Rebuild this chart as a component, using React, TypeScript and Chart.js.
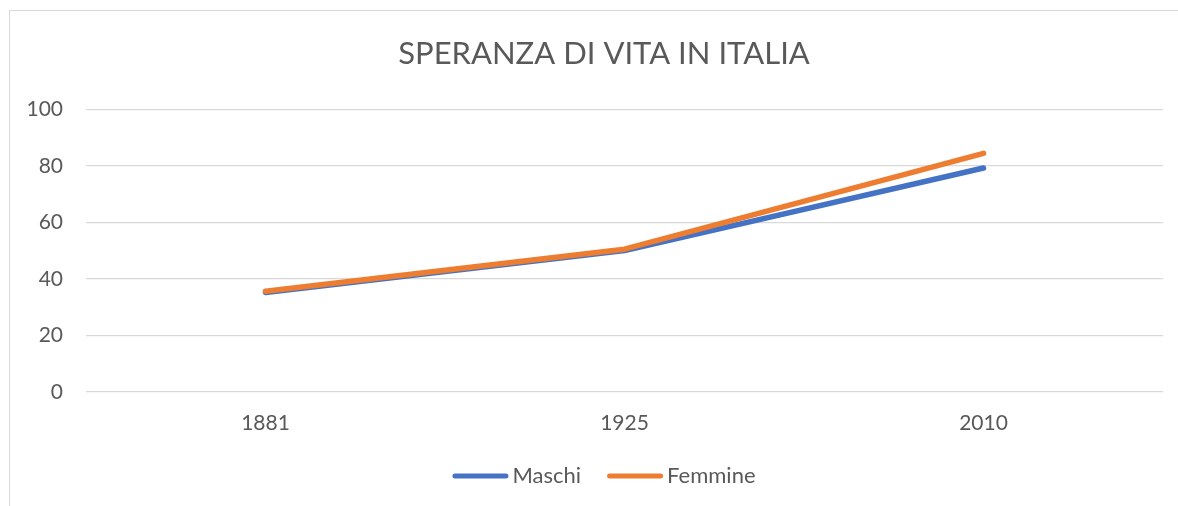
import React, { useEffect, useRef } from "react";
import { Chart, registerables } from "chart.js";

Chart.register(...registerables);

const TITLE = "SPERANZA DI VITA IN ITALIA";
const categories = ["1881", "1925", "2010"];
const maschi = [35.2, 50.0, 79.2];
const femmine = [35.6, 50.5, 84.4];
const seriesNames = ["Maschi", "Femmine"];
const seriesColors = ["#4472C4", "#ED7D31"];
const yTicks = [0, 20, 40, 60, 80, 100];

const FONT = "Lato, 'Open Sans', sans-serif";
const TEXT = "#595959";

const legendPlugin = {
  id: "customLegend",
  afterDraw(chart: any) {
    const ctx = chart.ctx;
    ctx.save();
    ctx.font = `22px ${FONT}`;
    const lineW = 56;
    const gap = 4;
    const spacing = 26;
    const widths = seriesNames.map((n) => lineW + gap + ctx.measureText(n).width);
    const total = widths.reduce((a, b) => a + b, 0) + spacing * (widths.length - 1);
    let x = chart.width / 2 - total / 2;
    const y = chart.height - 30;
    seriesNames.forEach((name, i) => {
      ctx.strokeStyle = seriesColors[i];
      ctx.lineWidth = 5;
      ctx.lineCap = "round";
      ctx.beginPath();
      ctx.moveTo(x + 2.5, y);
      ctx.lineTo(x + lineW - 2.5, y);
      ctx.stroke();
      ctx.fillStyle = TEXT;
      ctx.textBaseline = "middle";
      ctx.textAlign = "left";
      ctx.fillText(name, x + lineW + gap, y);
      x += widths[i] + spacing;
    });
    ctx.restore();
  },
};

export default function App() {
  const ref = useRef<HTMLCanvasElement>(null);
  useEffect(() => {
    if (!ref.current) return;
    const chart = new Chart(ref.current, {
      type: "line",
      data: {
        labels: categories,
        datasets: [
          {
            label: seriesNames[0],
            data: maschi,
            borderColor: seriesColors[0],
            backgroundColor: seriesColors[0],
            borderWidth: 5.5,
            pointRadius: 0,
            tension: 0,
            borderCapStyle: "round",
            borderJoinStyle: "round",
            order: 1,
          },
          {
            label: seriesNames[1],
            data: femmine,
            borderColor: seriesColors[1],
            backgroundColor: seriesColors[1],
            borderWidth: 5.5,
            pointRadius: 0,
            tension: 0,
            borderCapStyle: "round",
            borderJoinStyle: "round",
            order: 0,
          },
        ],
      },
      options: {
        animation: false,
        responsive: false,
        maintainAspectRatio: false,
        layout: { padding: { left: 0, right: 0, top: 0, bottom: 0 } },
        plugins: {
          legend: { display: false },
          tooltip: { enabled: false },
          title: {
            display: true,
            text: TITLE,
            color: TEXT,
            font: { family: FONT, size: 31, weight: "normal" },
            padding: { top: 25, bottom: 37 },
          },
        },
        scales: {
          x: {
            offset: true,
            grid: { display: false, drawTicks: false },
            border: { display: false },
            ticks: {
              color: TEXT,
              font: { family: FONT, size: 21 },
              padding: 19,
              maxRotation: 0,
            },
            afterFit(scale: any) {
              scale.height = 114;
            },
          },
          y: {
            min: 0,
            max: 100,
            afterBuildTicks(scale: any) {
              scale.ticks = yTicks.map((v) => ({ value: v }));
            },
            grid: { color: "#d9d9d9", lineWidth: 1.3, drawTicks: false },
            border: { display: false },
            ticks: {
              color: TEXT,
              font: { family: FONT, size: 21 },
              padding: 23,
            },
            afterFit(scale: any) {
              scale.width = 77;
            },
          },
          yRight: {
            type: "linear",
            position: "right",
            min: 0,
            max: 100,
            grid: { display: false, drawTicks: false },
            border: { display: false },
            ticks: { display: false },
            afterFit(scale: any) {
              scale.width = 36;
            },
          },
        },
      },
      plugins: [legendPlugin],
    });
    return () => chart.destroy();
  }, []);

  return (
    <div
      style={{
        position: "absolute",
        left: 0,
        top: 0,
        width: 1178,
        height: 506,
        overflow: "hidden",
        background: "#ffffff",
      }}
    >
      <div
        style={{
          position: "absolute",
          left: 9,
          top: 10,
          width: 1300,
          height: 700,
          border: "1px solid #d9d9d9",
          boxSizing: "border-box",
        }}
      />
      <canvas
        ref={ref}
        width={1190}
        height={496}
        style={{ position: "absolute", left: 9, top: 10, width: 1190, height: 496 }}
      />
    </div>
  );
}
